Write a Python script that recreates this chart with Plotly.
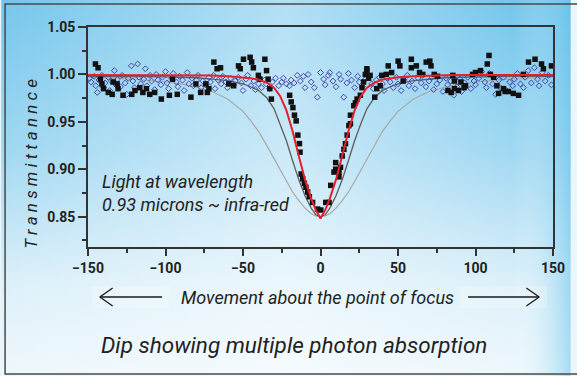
import base64
import plotly.graph_objects as go

# ---------------- data ----------------
sq_x = [-145.2, -143.5, -142, -141, -140, -136.9, -134.4, -133.8, -131.2, -130.6, -127.4, -121.8, -119.7,
        -116.6, -114.6, -112.3, -110.2, -107, -102.7, -97.5, -95.5, -92.4, -83.6, -80.4, -77.3, -74, -73, -72,
        -68.8, -66.7, -64.5, -59.2, -56, -52.9, -51.8, -49.7, -45.4, -44.4, -43.3, -40.1, -39, -35.9, -34.8,
        -33.8, -32.7, -31.7,
        -19.9, -18.9, -17.8, -16.8, -15.7, -14.6, -13.6, -13.2, -12.5, -11.5, -10.4, -9.4, -8.3, -7.2, -5.1,
        -1.9, 0.2,
        3.4, 5.5, 6.6, 8.7, 9.8, 9.8, 10.8, 11.9, 11.9, 12.9, 14, 15.1, 16.1, 17.2, 18.3, 19.3, 19.3, 21.5,
        22.5, 23.6, 25.7, 26.8, 27.8, 28.9, 29.9, 29.9, 31, 32, 35, 36.3, 38.5, 39.5, 42.4, 43.7, 45.9, 50.1,
        51.2, 53.3, 58.6, 58.6, 61.8, 63.9, 66, 68.2, 70.5, 71.3, 73.4, 75.5, 82.2, 84.3, 85.4, 86.4, 86.4,
        89, 90.6, 92.6, 93.6, 98.1, 100, 103.2, 107.6, 108.7, 109.6, 111.7, 113.8, 114.9, 118, 119.1, 121.2,
        124.4, 127.8, 130.9, 134.2, 138.4, 142.6, 143.8, 149]
sq_y = [1.011, 1.007, 0.995, 0.990, 0.985, 0.981, 0.979, 0.992, 0.990, 0.985, 0.978, 0.979, 0.983,
        0.986, 0.981, 0.985, 0.979, 0.981, 0.974, 0.978, 0.995, 0.979, 0.976, 0.990, 0.981, 0.990, 0.981, 0.985,
        1.013, 1.006, 1.007, 0.990, 0.988, 1.009, 1.006, 1.016, 1.018, 1.013, 1.007, 0.999, 0.995, 1.016, 1.004,
        0.995, 0.985, 0.974,
        0.978, 0.971, 0.965, 0.957, 0.951, 0.936, 0.927, 0.918, 0.895, 0.890, 0.885, 0.881, 0.876, 0.871, 0.865,
        0.858, 0.857,
        0.865, 0.865, 0.883, 0.897, 0.900, 0.907, 0.899, 0.897, 0.892, 0.902, 0.914, 0.921, 0.927, 0.936, 0.946,
        0.948, 0.957, 0.967, 0.970, 0.974, 0.978, 0.986, 0.992, 1.000, 1.004, 1.006, 0.996, 0.999, 0.976, 0.985,
        0.988, 0.999, 1.000, 1.009, 1.002, 1.014, 1.009, 0.993, 1.007, 1.016, 1.009, 1.002, 1.000, 1.013, 1.014,
        1.009, 1.000, 0.998, 0.983, 0.981, 0.999, 0.993, 0.985, 0.983, 0.992, 0.986, 0.988, 1.000, 1.002, 1.004,
        1.011, 1.020, 1.000, 0.997, 0.988, 0.980, 0.985, 0.982, 0.982, 0.980, 0.978, 1.000, 1.013, 1.016, 1.011,
        1.006, 1.009]

dm_x = [-149, -148, -146, -145, -144, -143, -141, -140, -139, -137, -136, -135, -133, -132, -131, -129, -128,
        -126, -125, -124, -122, -121, -120, -118, -117, -116, -114, -113, -112, -110, -109, -107, -106, -105,
        -103, -102, -100, -99, -98, -96, -95, -93, -92, -91, -89, -88, -86, -85, -83, -82, -80, -79, -77, -76,
        -74, -72, -71, -69, -68, -66, -64, -63, -61, -60, -58, -56, -55, -53, -51, -50, -48, -47, -45, -43, -42,
        -40, -38, -36, -35, -33, -31, -29, -27, -25, -24, -22, -20, -19, -17, -15, -13, -11, -10, -8, -6, -4,
        -2, 0, 2, 3, 5, 6, 8, 10, 12, 13, 15, 17, 18, 20, 22, 24, 25, 27, 29, 31, 33, 34, 36, 38, 40, 41, 43,
        45, 47, 49, 50, 52, 54, 56, 57, 59, 61, 63, 65, 66, 68, 70, 72, 73, 75, 77, 79, 81, 82, 84, 86, 88, 90,
        91, 93, 95, 97, 99, 100, 102, 104, 106, 107, 109, 111, 113, 115, 116, 118, 120, 122, 124, 125, 127, 129,
        131, 132, 134, 136, 138, 140, 141, 143, 145, 147, 149]
dm_y = [0.996, 0.992, 0.998, 0.988, 0.981, 0.994, 0.999, 0.986, 0.991, 0.997, 0.983, 0.993, 1.004, 0.989,
        0.995, 0.987, 0.999, 0.991, 0.979, 0.996, 1.009, 0.993, 0.986, 1.011, 0.997, 0.990, 0.995, 1.006, 0.988,
        0.999, 0.993, 0.984, 1.000, 0.994, 0.989, 0.997, 1.003, 0.991, 0.985, 0.996, 1.001, 0.992, 0.987, 0.998,
        0.994, 0.983, 1.002, 0.990, 0.996, 0.988, 0.994, 0.999, 0.986, 0.993, 0.989, 0.997, 0.992, 0.999, 0.985,
        0.994, 0.990, 0.998, 0.992, 0.986, 0.996, 0.989, 0.993, 0.997, 0.991, 0.983, 0.995, 0.999, 0.988, 0.993,
        0.984, 0.990, 0.986, 0.994, 0.990, 0.985, 0.992, 0.996, 0.988, 0.992, 0.996, 0.990, 0.988, 0.994, 0.991,
        0.999, 0.993, 0.998, 0.986, 1.000, 0.992, 0.986, 0.976, 1.002, 0.995, 0.989, 0.999, 1.002, 0.993, 0.987,
        1.000, 0.995, 0.976, 0.991, 1.001, 0.994, 0.986, 0.998, 0.992, 0.987, 0.995, 0.999, 0.990, 0.985, 0.994,
        0.997, 0.990, 0.983, 0.996, 0.992, 0.986, 0.997, 0.990, 0.983, 0.994, 0.999, 0.988, 0.993, 0.985, 0.996,
        0.991, 0.999, 0.987, 0.993, 0.997, 0.984, 0.990, 0.994, 0.982, 0.996, 0.989, 0.993, 0.978, 0.987, 0.995,
        0.982, 0.991, 0.997, 0.985, 0.993, 0.989, 0.996, 1.003, 0.992, 0.986, 1.001, 0.990, 0.979, 0.994, 0.986,
        0.997, 0.983, 0.992, 0.988, 0.995, 1.001, 0.990, 0.986, 0.997, 1.004, 0.991, 1.007, 0.995, 0.988, 1.002,
        0.993, 0.999, 0.989]

curve_x = [-150, -120, -100, -90, -80, -70, -60, -50, -45, -40, -35, -30, -26, -22, -18, -14, -10, -6, -3, 0,
           3, 6, 10, 14, 18, 22, 26, 30, 35, 40, 45, 50, 60, 70, 80, 90, 100, 120, 150]
red_y = [0.9995, 0.9995, 0.9994, 0.9993, 0.9991, 0.9988, 0.998, 0.997, 0.996, 0.9945, 0.9915, 0.986, 0.977,
         0.962, 0.940, 0.914, 0.889, 0.869, 0.857, 0.848,
         0.857, 0.869, 0.889, 0.914, 0.940, 0.962, 0.977, 0.986, 0.9915, 0.9945, 0.996, 0.997, 0.998, 0.9988,
         0.9991, 0.9993, 0.9994, 0.9995, 0.9995]
dark_y = [0.998, 0.998, 0.9975, 0.997, 0.9965, 0.995, 0.9935, 0.990, 0.987, 0.983, 0.976, 0.964, 0.948,
          0.930, 0.909, 0.889, 0.872, 0.859, 0.852, 0.850,
          0.852, 0.859, 0.872, 0.889, 0.909, 0.930, 0.948, 0.964, 0.976, 0.983, 0.987, 0.990, 0.9935, 0.995,
          0.9965, 0.997, 0.9975, 0.998, 0.998]
light_y = [0.997, 0.995, 0.992, 0.990, 0.9865, 0.982, 0.974, 0.961, 0.951, 0.940, 0.926, 0.911, 0.899,
           0.887, 0.876, 0.867, 0.859, 0.853, 0.8508, 0.850,
           0.8508, 0.853, 0.859, 0.867, 0.876, 0.887, 0.899, 0.911, 0.926, 0.940, 0.951, 0.961, 0.974, 0.982,
           0.9865, 0.990, 0.992, 0.995, 0.997]

y_ticks = [0.85, 0.90, 0.95, 1.00, 1.05]
x_ticks = [-150, -100, -50, 0, 50, 100, 150]

# ---------------- layout helpers ----------------
W, H = 577, 376
L, R, T, B = 88, 559, 27, 247
PW, PH = R - L, B - T


def px(x):
    return (x - L) / PW


def py(y):
    return (B - y) / PH


FONT = "Liberation Sans Narrow, Roboto, Arial, sans-serif"
TXT = "#222222"

svg = f'''<svg xmlns="http://www.w3.org/2000/svg" width="{W}" height="{H}" viewBox="0 0 {W} {H}" preserveAspectRatio="none">
<defs>
<linearGradient id="v" x1="0" y1="0" x2="0" y2="1">
<stop offset="0" stop-color="#74c6ec"/>
<stop offset="0.4" stop-color="#a0d8f2"/>
<stop offset="0.75" stop-color="#dcf0fa"/>
<stop offset="1" stop-color="#eef8fc"/>
</linearGradient>
<linearGradient id="h" x1="0" y1="0" x2="1" y2="0">
<stop offset="0" stop-color="#ffffff" stop-opacity="0"/>
<stop offset="0.5" stop-color="#ffffff" stop-opacity="0.45"/>
<stop offset="0.9" stop-color="#ffffff" stop-opacity="0"/>
<stop offset="1" stop-color="#5cbfe9" stop-opacity="0.5"/>
</linearGradient>
</defs>
<rect width="{W}" height="{H}" fill="url(#v)"/>
<rect width="{W}" height="{H}" fill="url(#h)"/>
</svg>'''
bg_src = "data:image/svg+xml;base64," + base64.b64encode(svg.encode()).decode()

fig = go.Figure()
fig.add_trace(go.Scatter(x=curve_x, y=light_y, mode="lines", line=dict(color="#a8a8a8", width=1.2),
                         hoverinfo="skip"))
fig.add_trace(go.Scatter(x=curve_x, y=dark_y, mode="lines", line=dict(color="#5e5e5e", width=1.3),
                         hoverinfo="skip"))
fig.add_trace(go.Scatter(x=dm_x, y=dm_y, mode="markers",
                         marker=dict(symbol="diamond-open", size=4.5, color="#4747a8", line=dict(width=1))))
fig.add_trace(go.Scatter(x=sq_x, y=sq_y, mode="markers",
                         marker=dict(symbol="square", size=5.5, color="#111111")))
fig.add_trace(go.Scatter(x=curve_x, y=red_y, mode="lines", line=dict(color="#e5202c", width=2),
                         hoverinfo="skip"))

axis_common = dict(showline=True, linecolor="#333333", linewidth=1.6, mirror=True, showgrid=False,
                   zeroline=False, ticks="outside", tickcolor="#333333", tickwidth=1.5,
                   tickfont=dict(family=FONT, size=14, color=TXT, weight="bold"))

fig.update_xaxes(range=[-150, 150], tickvals=x_ticks, ticklen=7,
                 minor=dict(dtick=25, tick0=-150, ticklen=4, tickcolor="#333333", tickwidth=1.5, ticks="outside"),
                 **axis_common)
fig.update_yaxes(range=[0.818, 1.05], tickvals=y_ticks, tickformat=".2f", ticklen=8,
                 minor=dict(dtick=0.025, tick0=0.825, ticklen=4, tickcolor="#333333", tickwidth=1.5,
                            ticks="outside"),
                 **axis_common)

shapes = []
# outer frame
shapes.append(dict(type="rect", xref="paper", yref="paper", x0=px(4), x1=px(590), y0=py(374), y1=py(4),
                   line=dict(color="#4a4a4a", width=1.5), layer="above"))
# faint white glows behind arrows
for a, b in [(92, 170), (464, 553)]:
    shapes.append(dict(type="rect", xref="paper", yref="paper", x0=px(a), x1=px(b), y0=py(308), y1=py(286),
                       fillcolor="rgba(255,255,255,0.22)", line=dict(width=0), layer="below"))
# arrows
arrow = dict(color="#1a1a1a", width=1.3)
shapes += [
    dict(type="line", xref="paper", yref="paper", x0=px(100), x1=px(163), y0=py(297), y1=py(297), line=arrow),
    dict(type="line", xref="paper", yref="paper", x0=px(100), x1=px(113), y0=py(297), y1=py(288), line=arrow),
    dict(type="line", xref="paper", yref="paper", x0=px(100), x1=px(113), y0=py(297), y1=py(306), line=arrow),
    dict(type="line", xref="paper", yref="paper", x0=px(473), x1=px(545), y0=py(297), y1=py(297), line=arrow),
    dict(type="line", xref="paper", yref="paper", x0=px(545), x1=px(532), y0=py(297), y1=py(288), line=arrow),
    dict(type="line", xref="paper", yref="paper", x0=px(545), x1=px(532), y0=py(297), y1=py(306), line=arrow),
]

ann = [
    dict(text="T r a n s m i t t a n n c e", x=px(30), y=py(164), xref="paper", yref="paper",
         textangle=-90, showarrow=False, xanchor="center", yanchor="middle",
         font=dict(family=FONT, size=17, color=TXT, style="italic")),
    dict(text="Light at wavelength<br>0.93 microns ~ infra-red", x=px(100), y=py(193), xref="paper",
         yref="paper", showarrow=False, xanchor="left", yanchor="middle", align="left",
         font=dict(family=FONT, size=18, color=TXT, style="italic")),
    dict(text="Movement about the point of focus", x=px(320), y=py(297), xref="paper", yref="paper",
         showarrow=False, xanchor="center", yanchor="middle",
         font=dict(family=FONT, size=18, color=TXT, style="italic")),
    dict(text="Dip showing multiple photon absorption", x=px(297), y=py(345), xref="paper", yref="paper",
         showarrow=False, xanchor="center", yanchor="middle",
         font=dict(family=FONT, size=22.5, color=TXT, style="italic")),
]

fig.update_layout(
    width=W, height=H, autosize=False,
    margin=dict(l=L, r=W - R, t=T, b=H - B, pad=0),
    paper_bgcolor="#eaf6fc", plot_bgcolor="#ffffff",
    showlegend=False,
    images=[dict(source=bg_src, xref="paper", yref="paper", x=px(0), y=py(0), sizex=W / PW, sizey=H / PH,
                 xanchor="left", yanchor="top", sizing="stretch", layer="below")],
    shapes=shapes, annotations=ann,
)

fig.write_html("out.html", config={"displayModeBar": False},
               post_script="document.body.style.margin='0';document.body.style.overflow='hidden';")
